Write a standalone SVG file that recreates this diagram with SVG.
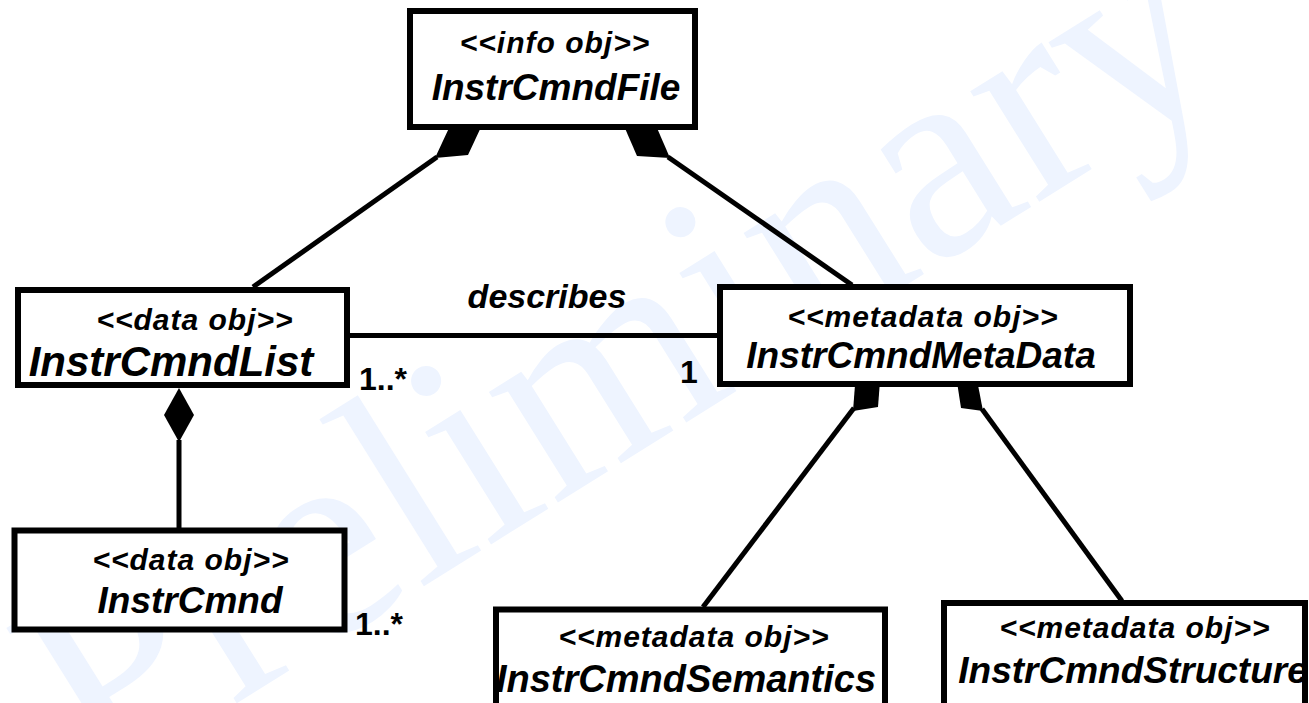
<svg xmlns="http://www.w3.org/2000/svg" width="1309" height="703" viewBox="0 0 1309 703">
  <style>
    .box { fill: #ffffff; stroke: #000000; stroke-width: 6; }
    .link { fill: none; stroke: #000000; stroke-width: 5; }
    .diamond { fill: #000000; stroke: none; }
    .stereo { font-family: "Liberation Sans", Arial, sans-serif; font-weight: bold; font-style: italic; font-size: 30px; letter-spacing: 1px; text-anchor: middle; fill: #000000; }
    .name { font-family: "Liberation Sans", Arial, sans-serif; font-weight: bold; font-style: italic; font-size: 37px; text-anchor: middle; fill: #000000; }
    .label { font-family: "Liberation Sans", Arial, sans-serif; font-weight: bold; font-style: italic; font-size: 34px; text-anchor: middle; fill: #000000; }
    .mult { font-family: "Liberation Sans", Arial, sans-serif; font-weight: bold; font-size: 32px; fill: #000000; }
    .watermark { font-family: "Liberation Serif", "Times New Roman", serif; font-size: 284px; fill: #eef4ff; }
  </style>

  <rect x="0" y="0" width="1309" height="703" fill="#ffffff"/>

  <!-- background watermark -->
  <text class="watermark" transform="translate(98,790) rotate(-32)" x="0" y="0">Preliminary</text>

  <!-- associations and compositions -->
  <g id="connectors">
    <line class="link" x1="253" y1="287" x2="437" y2="157"/>
    <polygon class="diamond" points="435,158 468,155 482,125 449,128"/>

    <line class="link" x1="852" y1="285" x2="668" y2="157"/>
    <polygon class="diamond" points="670,158 637,156 624,126 657,128"/>

    <line class="link" x1="347" y1="335.5" x2="720" y2="335.5"/>

    <line class="link" x1="179" y1="440" x2="179" y2="530"/>
    <polygon class="diamond" points="179,388 194,415 179,442 164,415"/>

    <line class="link" x1="703" y1="607" x2="854" y2="408"/>
    <polygon class="diamond" points="853,411 878,407 880,381 855,385"/>

    <line class="link" x1="1122" y1="601" x2="982" y2="409"/>
    <polygon class="diamond" points="983,411 961,408 957,382 978,385"/>

    <text class="label" x="547" y="308">describes</text>
    <text class="mult" x="359" y="390">1..*</text>
    <text class="mult" x="680" y="383">1</text>
    <text class="mult" x="355" y="635">1..*</text>
  </g>

  <g id="InstrCmndFile">
    <rect class="box" x="410" y="11" width="285" height="116"/>
    <text class="stereo" x="555" y="53">&lt;&lt;info obj&gt;&gt;</text>
    <text class="name" x="556" y="100">InstrCmndFile</text>
  </g>

  <g id="InstrCmndList">
    <rect class="box" x="18" y="290" width="329" height="95"/>
    <text class="stereo" x="195" y="330">&lt;&lt;data obj&gt;&gt;</text>
    <text class="name" x="171" y="376" style="font-size:42px">InstrCmndList</text>
  </g>

  <g id="InstrCmndMetaData">
    <rect class="box" x="720" y="287" width="410" height="97"/>
    <text class="stereo" x="923" y="327">&lt;&lt;metadata obj&gt;&gt;</text>
    <text class="name" x="921" y="368">InstrCmndMetaData</text>
  </g>

  <g id="InstrCmnd">
    <rect class="box" x="14.5" y="530.5" width="330" height="99"/>
    <text class="stereo" x="191" y="570">&lt;&lt;data obj&gt;&gt;</text>
    <text class="name" x="190" y="613">InstrCmnd</text>
  </g>

  <g id="InstrCmndSemantics">
    <rect class="box" x="496" y="609.5" width="389" height="104"/>
    <text class="stereo" x="694" y="647">&lt;&lt;metadata obj&gt;&gt;</text>
    <text class="name" x="686" y="692" style="font-size:38px">InstrCmndSemantics</text>
  </g>

  <g id="InstrCmndStructure">
    <rect class="box" x="944" y="603" width="361" height="110"/>
    <text class="stereo" x="1135" y="638">&lt;&lt;metadata obj&gt;&gt;</text>
    <text class="name" x="1133" y="683">InstrCmndStructure</text>
  </g>
</svg>
